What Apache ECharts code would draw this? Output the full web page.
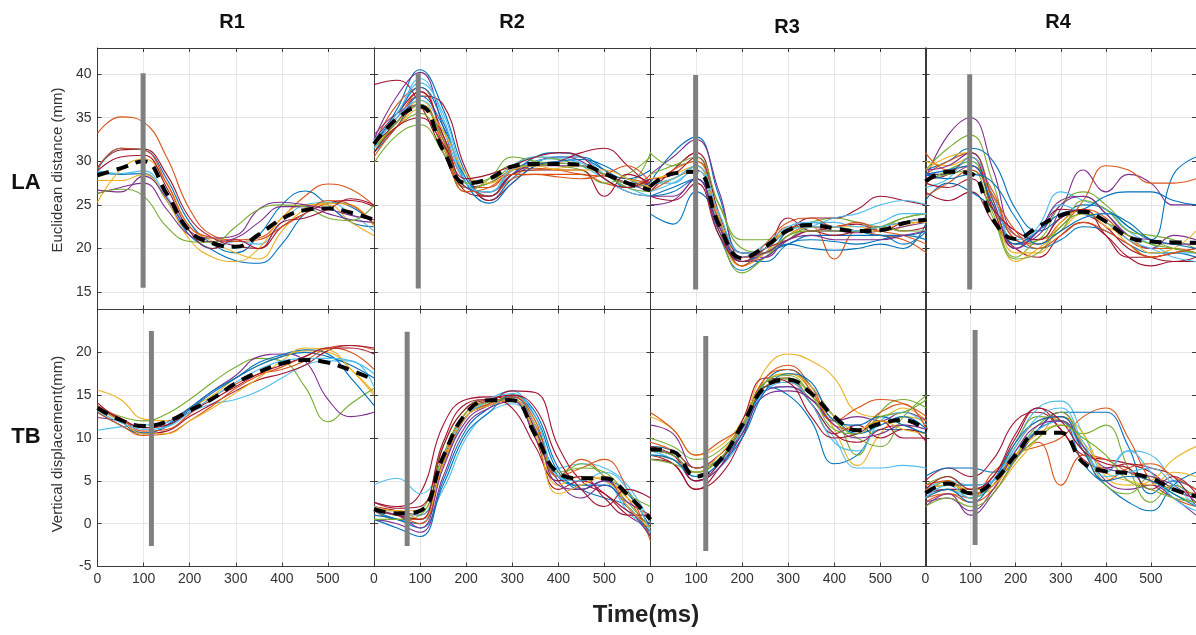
<!DOCTYPE html>
<html>
<head>
<meta charset="utf-8">
<script src="https://cdn.jsdelivr.net/npm/echarts@6/dist/echarts.min.js"></script>
<style>html,body{margin:0;padding:0;background:#fff}#c{width:1196px;height:635px}</style>
</head>
<body>
<div id="c"></div>
<script>
// ---------------- DATA ----------------
const timeMs = [0, 50, 100, 150, 200, 250, 300, 350, 400, 450, 500, 550, 600];
const columnTitles = ['R1', 'R2', 'R3', 'R4'];
const rowTitles = ['LA', 'TB'];
const rowYNames = ['Euclidean distance (mm)', 'Vertical displacement(mm)'];
const xAxisTitle = 'Time(ms)';
const yTicksLA = [15, 20, 25, 30, 35, 40];
const yTicksTB = [-5, 0, 5, 10, 15, 20];
const yRangeLA = [13, 43];
const yRangeTB = [-5, 25];
const xRange = [0, 600];

// onset bars (ms, low, high)
const barTimeLA = [99, 96, 99, 98];
const barLowLA = [15.5, 15.4, 15.3, 15.3];
const barHighLA = [40.1, 40.1, 39.9, 40.0];
const barTimeTB = [117, 72, 121, 110];
const barLowTB = [-2.6, -2.6, -3.2, -2.5];
const barHighTB = [22.5, 22.4, 21.9, 22.6];

// means
const R1_LA_mean = [28.4, 29.2, 30.0, 26.3, 22.0, 20.6, 20.2, 21.6, 23.4, 24.4, 24.6, 24.1, 23.3];
const R2_LA_mean = [32.0, 34.9, 36.3, 31.3, 27.5, 28.0, 29.4, 29.7, 29.7, 29.6, 28.6, 27.5, 26.7];
const R3_LA_mean = [27.1, 28.6, 28.8, 22.7, 18.9, 20.2, 22.1, 22.7, 22.3, 22.0, 22.1, 22.9, 23.3];
const R4_LA_mean = [27.7, 28.8, 28.6, 23.3, 21.1, 22.5, 23.8, 24.2, 23.1, 21.3, 20.8, 20.7, 20.65];
const R1_TB_mean = [13.5, 12.1, 11.4, 11.9, 13.2, 14.6, 16.4, 17.7, 18.7, 19.1, 18.8, 17.9, 16.8];
const R2_TB_mean = [1.7, 1.2, 1.5, 7.8, 12.9, 14.4, 14.4, 10.4, 5.9, 5.3, 5.3, 3.4, 0.5];
const R3_TB_mean = [8.7, 8.4, 5.5, 7.3, 11.5, 16.0, 16.8, 15.2, 12.5, 10.9, 11.7, 12.1, 10.9];
const R4_TB_mean = [3.55, 4.7, 3.55, 4.9, 8.0, 10.6, 10.6, 7.1, 6.1, 5.9, 5.3, 4.0, 3.2];

// trials
const R1_LA_trials = [
  [33.2, 35.1, 34.5, 30.5, 24.5, 21.5, 21.0, 21.2, 23.5, 26.0, 27.4, 26.8, 24.9],
  [29.3, 31.3, 31.4, 28.5, 23.5, 21.2, 20.3, 20.0, 22.5, 24.0, 25.2, 25.5, 24.8],
  [29.0, 31.5, 31.3, 28.0, 23.0, 20.5, 19.5, 21.5, 25.0, 26.6, 25.0, 23.0, 22.5],
  [28.7, 28.5, 28.6, 25.5, 21.5, 19.8, 18.6, 18.3, 20.5, 24.0, 25.3, 24.8, 22.8],
  [28.9, 28.6, 28.9, 26.0, 22.0, 20.0, 20.8, 20.5, 23.0, 25.0, 25.3, 24.0, 22.0],
  [27.8, 27.8, 28.5, 25.5, 21.0, 19.0, 18.5, 20.0, 23.5, 25.0, 25.0, 23.0, 21.5],
  [25.3, 29.0, 30.3, 27.5, 22.5, 20.8, 19.5, 18.8, 22.0, 24.5, 25.2, 25.0, 22.5],
  [26.7, 26.5, 28.3, 25.8, 22.0, 21.2, 21.5, 24.5, 25.3, 25.0, 24.5, 23.8, 23.3],
  [26.3, 27.0, 27.5, 24.5, 21.5, 20.8, 21.2, 23.0, 24.8, 24.8, 24.0, 23.3, 23.0],
  [26.3, 26.8, 26.0, 22.5, 20.8, 20.7, 22.5, 24.5, 25.0, 24.8, 23.5, 23.2, 25.0],
  [29.2, 31.5, 31.3, 27.5, 22.5, 21.2, 20.8, 21.0, 22.5, 24.0, 25.5, 25.0, 22.8],
  [28.9, 30.5, 30.7, 27.0, 22.0, 20.0, 21.0, 20.0, 23.0, 23.5, 24.5, 25.7, 25.0]
];
const R2_LA_trials = [
  [38.8, 39.3, 36.5, 31.0, 27.0, 27.5, 29.0, 29.5, 29.8, 29.5, 28.5, 27.5, 27.5],
  [31.5, 36.0, 40.5, 36.0, 28.5, 25.5, 28.0, 29.8, 30.5, 30.5, 29.0, 27.0, 27.5],
  [32.5, 37.5, 40.2, 34.0, 27.0, 26.5, 29.0, 30.0, 30.5, 30.0, 28.0, 26.5, 26.0],
  [31.0, 35.0, 39.0, 35.5, 28.0, 26.0, 28.5, 30.0, 30.3, 29.8, 28.5, 27.5, 28.0],
  [32.0, 36.5, 38.5, 32.5, 27.0, 27.0, 29.0, 29.2, 29.0, 28.5, 28.3, 28.0, 27.5],
  [29.8, 33.0, 34.2, 31.0, 27.0, 27.5, 29.5, 30.5, 30.2, 29.5, 28.5, 27.5, 31.0],
  [31.5, 34.5, 37.0, 32.0, 27.0, 26.5, 28.5, 29.0, 29.2, 29.5, 28.5, 27.5, 27.0],
  [32.0, 34.5, 37.5, 36.5, 29.0, 25.5, 27.5, 29.5, 30.0, 31.0, 31.5, 29.5, 27.0],
  [31.0, 34.0, 37.5, 34.0, 28.0, 26.0, 28.5, 30.5, 31.0, 30.5, 29.0, 28.0, 29.0],
  [32.5, 35.0, 38.0, 33.0, 27.5, 26.0, 28.0, 28.5, 28.5, 28.5, 27.5, 27.0, 28.5],
  [31.5, 34.0, 35.5, 31.5, 26.5, 28.0, 30.5, 30.0, 29.5, 29.0, 27.5, 28.5, 30.5],
  [33.0, 35.5, 36.5, 32.5, 27.0, 26.5, 28.5, 29.5, 29.5, 29.5, 28.5, 27.5, 26.5],
  [31.5, 35.0, 37.0, 33.5, 27.5, 26.5, 29.0, 30.5, 30.5, 29.5, 28.0, 26.5, 26.0],
  [32.5, 35.5, 38.0, 33.0, 26.5, 26.0, 28.5, 29.0, 29.0, 29.0, 26.0, 28.5, 27.5],
  [32.0, 35.5, 38.5, 34.5, 27.5, 25.2, 27.5, 29.5, 30.0, 30.2, 29.5, 28.0, 27.0],
  [32.0, 34.0, 36.0, 33.5, 28.5, 27.5, 29.0, 29.5, 29.0, 29.0, 29.0, 28.0, 27.0],
  [30.5, 34.0, 36.5, 32.0, 26.5, 27.0, 28.5, 28.5, 28.2, 28.0, 28.5, 29.5, 27.5],
  [32.5, 35.5, 39.5, 35.0, 27.5, 26.5, 29.5, 30.5, 31.0, 30.5, 28.5, 27.0, 26.0],
  [31.0, 34.5, 36.5, 32.5, 27.5, 28.0, 29.5, 29.5, 29.8, 29.5, 28.5, 27.0, 26.5],
  [31.0, 34.0, 35.0, 32.0, 28.0, 28.5, 29.5, 30.5, 31.0, 30.5, 28.0, 27.0, 28.0]
];
const R3_LA_trials = [
  [27.5, 31.0, 32.8, 26.0, 19.5, 19.5, 22.0, 23.0, 22.5, 22.0, 21.5, 21.5, 22.0],
  [28.5, 30.5, 32.5, 26.5, 19.0, 19.0, 21.5, 22.5, 22.0, 22.0, 22.5, 23.0, 23.5],
  [31.0, 29.5, 30.0, 25.0, 21.0, 21.0, 22.0, 23.0, 23.5, 23.0, 22.5, 23.5, 24.0],
  [24.0, 22.8, 26.5, 23.5, 18.5, 18.5, 20.5, 21.0, 20.8, 20.5, 21.0, 21.5, 21.0],
  [26.5, 29.0, 31.0, 24.0, 18.0, 20.0, 22.0, 23.5, 23.5, 24.5, 26.0, 25.5, 25.0],
  [27.5, 27.5, 29.5, 23.5, 18.0, 19.5, 21.5, 22.5, 23.5, 24.0, 25.0, 25.5, 25.0],
  [26.5, 28.0, 29.0, 22.5, 18.5, 19.5, 22.5, 22.5, 18.8, 22.0, 21.5, 21.0, 19.5],
  [26.0, 27.0, 28.0, 21.5, 17.5, 19.0, 20.5, 20.0, 19.8, 20.0, 20.5, 20.0, 23.0],
  [27.5, 28.0, 29.5, 22.0, 18.0, 19.5, 22.0, 22.0, 22.5, 22.5, 22.0, 22.5, 23.5],
  [28.0, 28.5, 30.5, 23.5, 19.5, 20.0, 23.5, 22.0, 22.5, 22.8, 22.0, 23.0, 23.5],
  [27.5, 28.0, 29.5, 22.0, 17.2, 19.0, 21.0, 22.5, 22.5, 22.0, 22.5, 23.5, 24.0],
  [25.0, 25.5, 28.0, 22.0, 18.5, 19.0, 21.0, 22.0, 22.0, 21.8, 22.0, 22.5, 23.0],
  [26.5, 27.5, 29.0, 23.0, 19.0, 20.5, 22.5, 23.0, 23.0, 22.5, 23.0, 24.0, 24.0],
  [27.0, 29.0, 30.0, 23.0, 18.0, 20.5, 23.0, 23.5, 22.5, 23.0, 22.0, 21.5, 20.5],
  [26.0, 26.5, 28.0, 22.5, 18.5, 19.5, 20.5, 21.5, 21.5, 21.5, 21.5, 20.5, 22.0],
  [28.0, 28.5, 29.5, 23.5, 19.0, 19.5, 21.5, 22.5, 22.5, 22.0, 22.0, 23.0, 23.0],
  [26.0, 25.5, 27.5, 21.5, 18.5, 20.0, 21.0, 22.0, 21.5, 22.0, 22.5, 22.0, 22.5],
  [28.5, 29.5, 30.5, 25.0, 20.0, 19.5, 21.5, 22.0, 22.0, 22.0, 22.5, 22.0, 22.0],
  [26.0, 26.0, 28.0, 22.5, 19.0, 19.5, 21.0, 21.5, 21.0, 21.0, 21.0, 21.5, 22.0],
  [27.5, 28.0, 29.5, 24.0, 19.5, 20.0, 22.0, 22.5, 22.5, 22.0, 22.5, 23.0, 23.5]
];
const R4_LA_trials = [
  [28.0, 33.0, 35.0, 29.0, 21.5, 21.0, 24.5, 29.0, 26.5, 28.5, 27.5, 25.0, 25.0],
  [29.0, 31.5, 33.0, 27.5, 20.5, 21.0, 25.0, 26.5, 25.0, 22.5, 21.0, 20.0, 19.5],
  [29.0, 30.0, 31.5, 30.0, 24.5, 22.0, 23.5, 25.0, 24.5, 22.5, 21.0, 28.5, 30.5],
  [28.5, 30.0, 31.0, 26.0, 21.5, 21.0, 22.5, 25.5, 29.5, 29.0, 27.5, 27.5, 28.0],
  [26.5, 25.5, 26.5, 23.0, 20.0, 19.0, 21.5, 23.0, 21.5, 19.0, 18.0, 18.5, 18.5],
  [25.5, 27.5, 26.5, 24.5, 21.0, 20.0, 21.0, 22.5, 22.0, 20.5, 19.5, 19.5, 19.0],
  [28.5, 29.0, 30.0, 25.0, 20.0, 22.5, 26.5, 25.5, 24.5, 22.0, 20.5, 19.5, 19.5],
  [30.0, 29.5, 30.5, 25.0, 18.5, 20.0, 22.0, 24.0, 23.0, 20.5, 19.0, 19.5, 20.0],
  [31.0, 29.0, 29.5, 26.5, 21.0, 20.5, 23.0, 24.5, 23.5, 21.0, 20.0, 20.0, 19.5],
  [28.5, 28.5, 29.5, 25.0, 20.5, 21.5, 25.0, 26.0, 24.0, 21.5, 20.0, 21.5, 21.0],
  [27.5, 29.0, 30.0, 24.0, 19.0, 21.0, 22.0, 25.5, 24.5, 22.0, 21.5, 21.0, 20.0],
  [28.0, 28.5, 30.5, 24.5, 20.0, 22.0, 24.5, 24.0, 22.5, 20.0, 19.0, 18.5, 19.0],
  [28.5, 29.0, 29.5, 25.0, 20.5, 22.0, 24.0, 24.5, 26.0, 26.5, 26.5, 25.5, 25.0],
  [27.0, 28.0, 30.5, 26.0, 21.0, 22.0, 25.0, 24.0, 23.0, 21.0, 20.0, 19.0, 18.5],
  [29.0, 30.5, 31.0, 25.5, 19.5, 19.5, 23.0, 24.5, 22.5, 21.5, 19.5, 20.0, 22.0],
  [27.5, 27.0, 28.0, 24.5, 22.0, 21.0, 23.5, 24.5, 21.5, 19.0, 19.0, 19.5, 20.0],
  [29.0, 29.5, 31.0, 25.5, 20.0, 22.0, 25.5, 26.0, 24.0, 21.5, 21.0, 20.5, 20.5],
  [28.0, 28.5, 29.0, 23.5, 18.8, 19.5, 22.5, 24.0, 23.0, 21.5, 20.5, 20.0, 19.5],
  [26.0, 27.5, 29.0, 26.0, 22.0, 20.0, 21.5, 23.0, 22.0, 20.5, 19.0, 19.5, 20.0],
  [28.5, 28.0, 28.5, 27.5, 23.5, 20.5, 22.0, 23.5, 24.0, 23.0, 21.0, 20.5, 20.0]
];
const R1_TB_trials = [
  [15.6, 14.5, 12.2, 12.0, 13.5, 15.0, 17.0, 18.5, 19.5, 20.2, 20.0, 18.0, 15.3],
  [13.5, 12.5, 12.0, 12.8, 14.5, 16.5, 18.3, 19.3, 19.0, 16.0, 11.9, 14.0, 15.8],
  [12.4, 12.0, 11.2, 11.8, 13.5, 15.5, 17.3, 19.5, 19.8, 19.0, 14.5, 12.5, 13.0],
  [10.9, 11.3, 11.5, 11.8, 13.0, 14.0, 14.5, 15.5, 17.0, 18.5, 19.0, 19.0, 16.0],
  [13.0, 11.5, 10.5, 11.5, 13.5, 15.5, 17.0, 18.5, 19.5, 20.0, 19.5, 18.5, 17.0],
  [13.5, 12.0, 10.6, 11.3, 13.3, 15.3, 17.0, 18.8, 19.7, 20.3, 19.8, 17.0, 13.8],
  [13.8, 12.3, 10.8, 11.0, 12.8, 14.8, 16.3, 17.5, 18.0, 19.0, 20.5, 20.8, 20.3],
  [14.1, 12.0, 10.5, 10.8, 12.5, 14.0, 15.5, 16.8, 17.5, 18.5, 20.2, 20.8, 20.5],
  [13.0, 11.5, 10.3, 10.5, 12.0, 13.8, 15.8, 17.3, 18.3, 19.5, 20.5, 20.0, 18.0],
  [13.3, 12.0, 10.5, 10.5, 12.0, 13.5, 15.3, 17.0, 19.0, 20.5, 20.3, 18.0, 15.0],
  [13.5, 12.3, 11.2, 11.5, 13.0, 14.5, 16.0, 17.5, 18.5, 19.5, 20.5, 20.5, 19.8],
  [13.2, 11.8, 11.0, 11.3, 13.0, 14.8, 16.5, 18.0, 19.0, 19.3, 19.3, 19.0, 17.5]
];
const R2_TB_trials = [
  [2.5, 2.0, 3.5, 11.5, 14.5, 14.8, 14.5, 10.0, 4.0, 5.0, 3.5, 1.0, -0.5],
  [0.5, -0.5, -1.5, 5.0, 11.0, 13.5, 14.8, 12.5, 6.0, 4.0, 3.0, 2.0, -1.5],
  [4.5, 5.3, 3.5, 7.0, 12.5, 14.5, 15.5, 11.5, 6.5, 7.0, 6.5, 4.5, 0.0],
  [1.5, 1.5, 0.5, 4.0, 10.0, 13.0, 14.0, 11.0, 5.0, 5.5, 5.0, 1.5, -1.0],
  [1.5, 0.5, 0.5, 7.5, 13.0, 14.3, 14.5, 11.0, 5.5, 7.5, 5.5, 3.0, -1.5],
  [2.0, 1.5, 1.0, 7.0, 12.5, 14.0, 15.5, 15.3, 9.0, 5.0, 3.5, 1.5, 0.0],
  [2.0, 1.0, 1.5, 9.0, 13.5, 14.5, 14.5, 10.5, 5.5, 7.0, 5.5, 2.5, -0.5],
  [0.5, 0.0, -1.0, 5.5, 11.5, 13.5, 14.3, 10.0, 5.0, 3.0, 4.5, 2.5, 1.0],
  [1.5, 0.5, 0.0, 7.0, 12.5, 14.0, 14.8, 11.5, 5.5, 4.5, 4.5, 2.0, -1.0],
  [2.0, 1.5, 1.5, 8.0, 13.0, 14.0, 15.0, 11.5, 4.5, 5.5, 5.0, 3.0, 0.5],
  [2.5, 1.8, 2.0, 9.5, 14.0, 14.5, 13.5, 9.0, 5.0, 5.5, 3.0, 1.0, 1.0],
  [1.5, 1.0, 0.0, 7.0, 12.5, 14.0, 14.8, 12.0, 5.5, 6.5, 7.5, 4.0, -2.0],
  [1.0, 0.5, -0.5, 4.5, 10.5, 13.0, 15.0, 13.0, 6.5, 4.0, 5.0, 3.5, -0.5],
  [2.0, 1.0, 1.0, 8.0, 12.5, 14.3, 15.2, 12.5, 5.5, 5.0, 6.0, 4.0, -1.0],
  [0.5, 0.5, 1.0, 8.0, 13.0, 14.2, 14.5, 11.0, 6.0, 6.5, 6.0, 3.5, 2.0],
  [1.5, 1.0, -0.5, 6.5, 12.0, 13.8, 14.5, 11.0, 4.5, 4.0, 5.0, 2.0, -1.5],
  [1.5, 1.5, 0.5, 7.0, 12.5, 13.8, 14.5, 10.5, 3.5, 4.5, 5.5, 2.0, -0.5],
  [1.5, 1.0, 0.5, 9.0, 13.5, 14.5, 15.0, 13.5, 7.5, 4.0, 2.0, 4.0, 3.0]
];
const R3_TB_trials = [
  [12.5, 11.0, 8.0, 9.0, 12.0, 18.0, 19.8, 19.0, 17.0, 13.0, 12.5, 13.5, 12.0],
  [8.5, 8.0, 6.0, 7.5, 10.5, 16.0, 15.0, 12.0, 7.0, 8.0, 11.0, 11.0, 10.5],
  [8.0, 7.5, 5.0, 6.5, 10.0, 15.5, 16.0, 14.0, 10.0, 6.5, 6.5, 6.8, 6.5],
  [9.0, 8.5, 6.5, 7.5, 11.0, 16.5, 17.5, 15.5, 11.0, 6.8, 10.5, 12.5, 12.0],
  [8.0, 7.0, 4.0, 6.5, 11.0, 16.5, 17.0, 14.0, 10.5, 11.5, 10.0, 11.0, 10.5],
  [10.0, 9.0, 7.5, 8.5, 11.5, 16.0, 16.8, 14.5, 12.5, 8.0, 13.0, 14.5, 13.5],
  [11.5, 10.5, 6.5, 8.0, 11.0, 15.5, 16.0, 14.5, 12.0, 12.5, 12.0, 13.0, 12.0],
  [13.0, 11.0, 8.0, 9.5, 11.5, 17.0, 18.5, 16.0, 12.0, 13.5, 14.5, 14.0, 12.5],
  [7.5, 7.0, 4.0, 5.5, 10.0, 16.0, 16.5, 14.0, 10.5, 9.5, 11.0, 11.5, 9.5],
  [9.0, 8.5, 6.5, 7.5, 10.5, 16.5, 18.0, 16.0, 12.5, 10.5, 11.5, 12.5, 11.0],
  [7.5, 7.0, 6.0, 7.5, 11.0, 16.5, 17.0, 15.0, 12.0, 10.0, 9.0, 12.5, 15.0],
  [8.5, 7.5, 5.5, 7.0, 11.0, 15.5, 16.5, 14.0, 9.5, 8.5, 12.0, 13.0, 11.5],
  [9.5, 8.5, 6.5, 8.0, 11.5, 17.0, 18.0, 15.5, 11.5, 11.0, 13.0, 14.0, 11.0],
  [8.5, 8.0, 5.0, 6.5, 10.5, 15.0, 15.5, 14.5, 11.5, 10.0, 10.5, 11.5, 11.0],
  [9.0, 8.0, 5.0, 7.0, 12.0, 17.0, 16.5, 12.5, 10.0, 10.5, 12.0, 10.0, 10.0],
  [8.0, 7.5, 6.0, 8.0, 11.5, 16.5, 17.5, 16.0, 12.5, 11.0, 12.0, 11.0, 10.5],
  [8.0, 7.5, 5.5, 7.0, 10.0, 15.5, 17.5, 16.5, 12.0, 11.5, 12.5, 11.5, 10.5],
  [8.5, 8.0, 6.0, 7.5, 11.5, 16.5, 17.3, 15.0, 11.0, 10.5, 12.5, 13.0, 14.5]
];
const R4_TB_trials = [
  [5.0, 6.5, 5.5, 7.5, 12.0, 13.0, 11.0, 8.0, 7.5, 7.0, 6.0, 4.0, 3.0],
  [3.5, 4.0, 3.0, 5.0, 9.5, 13.5, 14.3, 10.5, 6.0, 8.5, 8.0, 5.0, 3.0],
  [3.0, 3.5, 3.0, 6.0, 8.0, 9.5, 4.5, 8.0, 7.5, 6.0, 5.0, 4.0, 3.5],
  [2.5, 3.5, 2.5, 4.0, 8.0, 9.0, 10.0, 12.5, 13.5, 10.0, 5.0, 3.0, 2.0],
  [4.0, 4.5, 4.5, 5.0, 7.5, 11.0, 13.0, 13.0, 13.0, 9.0, 3.5, 5.0, 4.0],
  [4.5, 5.5, 3.5, 5.0, 9.5, 12.5, 12.0, 10.5, 11.5, 6.5, 2.5, 4.5, 3.0],
  [2.0, 3.5, 1.0, 3.5, 7.5, 11.0, 13.0, 9.0, 5.0, 4.0, 4.5, 3.0, 1.0],
  [3.0, 4.0, 3.5, 4.0, 7.0, 10.0, 12.5, 10.5, 5.5, 4.5, 5.0, 7.5, 9.0],
  [5.5, 6.5, 6.5, 6.0, 8.0, 11.0, 12.0, 7.0, 4.5, 2.5, 1.5, 4.5, 6.0],
  [3.5, 4.0, 4.0, 5.5, 10.0, 13.5, 11.0, 7.5, 6.5, 7.0, 6.5, 5.5, 2.0],
  [4.0, 5.0, 4.5, 5.0, 8.5, 11.0, 12.0, 8.5, 6.0, 8.5, 6.0, 3.0, 1.5],
  [3.5, 5.0, 3.0, 4.5, 8.0, 11.5, 13.0, 9.0, 4.5, 3.5, 5.5, 3.5, 2.5],
  [4.5, 5.0, 3.5, 4.5, 9.0, 12.0, 12.5, 8.5, 5.0, 6.5, 7.0, 5.5, 4.0],
  [2.5, 3.0, 1.5, 4.0, 8.5, 11.5, 12.0, 9.0, 6.5, 6.0, 5.5, 4.5, 2.5],
  [4.0, 4.5, 4.0, 4.5, 8.0, 10.5, 11.5, 9.5, 6.0, 5.0, 4.5, 6.0, 5.5],
  [3.0, 4.0, 2.5, 5.0, 9.5, 12.0, 12.5, 8.5, 5.0, 5.5, 5.0, 3.5, 2.0],
  [4.0, 5.5, 4.0, 5.5, 10.5, 13.5, 12.0, 8.5, 7.0, 6.5, 4.0, 5.5, 3.5],
  [3.0, 4.5, 3.0, 5.0, 9.0, 12.5, 13.5, 9.5, 5.5, 6.0, 6.5, 4.5, 2.0],
  [2.0, 3.0, 2.0, 3.5, 7.5, 10.0, 11.5, 10.0, 8.0, 5.0, 4.0, 3.0, 2.5]
];

// ---------------- STYLE ----------------
const palette = { B: '#0072BD', O: '#D95319', Y: '#EDB120', P: '#7E2F8E', G: '#77AC30', L: '#4DBEEE', R: '#A2142F' };
const colorCodes = [
  ['ORBBLYYPPGOR', 'RBPLOGYRBOGPLRBYOLGR', 'BPGBRLOBYRGPLOBYRGPL', 'PGBORBLYOPGRBLYRPGOB'],
  ['YGPLBBOROYRL', 'RBLLORGPBYROBLGPYR', 'YBLYRGPORBGLOPRYBG', 'RLOOBGPYBRLGOPYBRLG']
];
const colLeft = [97.5, 374, 650, 925.5];
const colWidth = 276.5;
const rowTop = [48, 309.5];
const rowHeight = [261.5, 257];
const FONT = '"Liberation Sans", Arial, Helvetica, sans-serif';
const axisColor = '#3a3a3a';
const gridColor = '#e6e6e6';

const trialsTable = [
  [R1_LA_trials, R2_LA_trials, R3_LA_trials, R4_LA_trials],
  [R1_TB_trials, R2_TB_trials, R3_TB_trials, R4_TB_trials]
];
const meanTable = [
  [R1_LA_mean, R2_LA_mean, R3_LA_mean, R4_LA_mean],
  [R1_TB_mean, R2_TB_mean, R3_TB_mean, R4_TB_mean]
];
const barTable = [
  { t: barTimeLA, lo: barLowLA, hi: barHighLA },
  { t: barTimeTB, lo: barLowTB, hi: barHighTB }
];
const yTicks = [yTicksLA, yTicksTB];
const yRange = [yRangeLA, yRangeTB];

const grids = [], xAxes = [], yAxes = [], series = [];
let gi = 0;
for (let r = 0; r < 2; r++) {
  for (let c = 0; c < 4; c++) {
    grids.push({ left: colLeft[c], top: rowTop[r], width: colWidth, height: rowHeight[r], containLabel: false });
    const tickCommon = { show: true, inside: true, length: 4, lineStyle: { color: axisColor, width: 1 } };
    xAxes.push({
      type: 'value', gridIndex: gi, position: 'bottom', min: xRange[0], max: xRange[1], interval: 100,
      axisLine: { show: true, onZero: false, lineStyle: { color: axisColor, width: 1 } },
      axisTick: tickCommon,
      splitLine: { show: true, lineStyle: { color: gridColor, width: 1 } },
      axisLabel: { show: r === 1, showMaxLabel: false, margin: 6, fontSize: 14, color: '#333', fontFamily: FONT }
    });
    xAxes.push({
      type: 'value', gridIndex: gi, position: 'top', min: xRange[0], max: xRange[1], interval: 100,
      axisLine: { show: true, onZero: false, lineStyle: { color: axisColor, width: 1 } },
      axisTick: tickCommon, splitLine: { show: false }, axisLabel: { show: false }
    });
    yAxes.push({
      type: 'value', gridIndex: gi, position: 'left', min: yRange[r][0], max: yRange[r][1],
      axisLine: { show: true, onZero: false, lineStyle: { color: axisColor, width: 1 } },
      axisTick: Object.assign({ customValues: yTicks[r] }, tickCommon),
      splitLine: { show: true, lineStyle: { color: gridColor, width: 1 } },
      axisLabel: { show: c === 0, customValues: yTicks[r], margin: 6, fontSize: 14, color: '#333', fontFamily: FONT }
    });
    yAxes.push({
      type: 'value', gridIndex: gi, position: 'right', min: yRange[r][0], max: yRange[r][1],
      axisLine: { show: true, onZero: false, lineStyle: { color: axisColor, width: 1 } },
      axisTick: Object.assign({ customValues: yTicks[r] }, tickCommon),
      splitLine: { show: false }, axisLabel: { show: false }
    });
    const trials = trialsTable[r][c];
    const codes = colorCodes[r][c];
    trials.forEach((vals, k) => {
      series.push({
        type: 'line', xAxisIndex: 2 * gi, yAxisIndex: 2 * gi, silent: true,
        data: timeMs.map((t, j) => [t, vals[j]]),
        showSymbol: false, symbol: 'none', smooth: 0.45,
        lineStyle: { width: 1.1, color: palette[codes[k % codes.length]] }, z: 2
      });
    });
    series.push({
      type: 'line', xAxisIndex: 2 * gi, yAxisIndex: 2 * gi, silent: true,
      data: timeMs.map((t, j) => [t, meanTable[r][c][j]]),
      showSymbol: false, symbol: 'none', smooth: 0.45,
      lineStyle: { width: 4, color: '#000', type: [12, 8], cap: 'butt' }, z: 3
    });
    const b = barTable[r];
    series.push({
      type: 'line', xAxisIndex: 2 * gi, yAxisIndex: 2 * gi, silent: true,
      data: [[b.t[c], b.lo[c]], [b.t[c], b.hi[c]]],
      showSymbol: false, symbol: 'none',
      lineStyle: { width: 5, color: '#808080', cap: 'butt' }, z: 4
    });
    gi++;
  }
}

const graphics = [];
const titleX = [232, 512, 787, 1058];
const titleY = [22, 22, 27, 22];
columnTitles.forEach((t, i) => graphics.push({
  type: 'text', x: titleX[i], y: titleY[i],
  style: { text: t, font: 'bold 20px ' + FONT, fill: '#111', align: 'center', verticalAlign: 'middle', textAlign: 'center', textVerticalAlign: 'middle' }
}));
const rowLabelY = [183, 437];
rowTitles.forEach((t, i) => graphics.push({
  type: 'text', x: 26, y: rowLabelY[i],
  style: { text: t, font: 'bold 22px ' + FONT, fill: '#111', align: 'center', verticalAlign: 'middle', textAlign: 'center', textVerticalAlign: 'middle' }
}));
const yNameY = [170, 444];
rowYNames.forEach((t, i) => graphics.push({
  type: 'text', x: 58, y: yNameY[i], rotation: Math.PI / 2,
  style: { text: t, font: '15px ' + FONT, fill: '#333', align: 'center', verticalAlign: 'middle', textAlign: 'center', textVerticalAlign: 'middle' }
}));
graphics.push({
  type: 'text', x: 646, y: 615,
  style: { text: xAxisTitle, font: 'bold 24px ' + FONT, fill: '#222', align: 'center', verticalAlign: 'middle', textAlign: 'center', textVerticalAlign: 'middle' }
});

const chart = echarts.init(document.getElementById('c'), null, { renderer: 'canvas' });
chart.setOption({
  backgroundColor: '#fff',
  animation: false,
  grid: grids, xAxis: xAxes, yAxis: yAxes, series: series,
  graphic: graphics
});
</script>
</body>
</html>
